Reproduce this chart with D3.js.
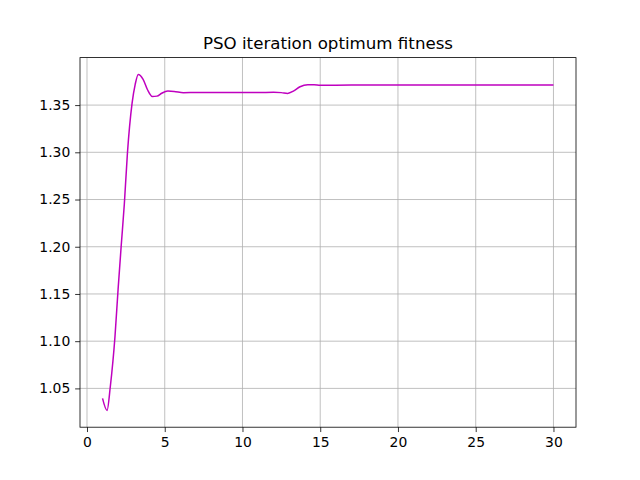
<!DOCTYPE html>
<html><head><meta charset="utf-8">
<script src="https://cdn.jsdelivr.net/npm/d3@7"></script>
<style>body{margin:0;background:#fff}</style>
</head><body>
<svg id="c" width="640" height="480"></svg>
<script>
const iterX = [1, 1.29, 1.5, 1.8, 2.0, 2.2, 2.4, 2.6, 2.9, 3.1, 3.3, 3.6, 3.9, 4.2, 4.5, 4.8, 5.2, 5.6, 6.2, 7, 8, 9, 10, 11, 12, 12.5, 12.9, 13.3, 13.7, 14.2, 14.6, 15, 16, 17, 18, 19, 20, 21, 22, 23, 24, 25, 26, 27, 28, 29, 30];
const fitness = [1.0394, 1.0267, 1.052, 1.105, 1.155, 1.201, 1.245, 1.299, 1.352, 1.372, 1.3825, 1.3776, 1.366, 1.3592, 1.3595, 1.3625, 1.3648, 1.3645, 1.3632, 1.3633, 1.3634, 1.3634, 1.3634, 1.3634, 1.3635, 1.3632, 1.3624, 1.3650, 1.3694, 1.3716, 1.3716, 1.3709, 1.3711, 1.3712, 1.3712, 1.3712, 1.3712, 1.3712, 1.3712, 1.3712, 1.3712, 1.3712, 1.3712, 1.3712, 1.3712, 1.3712, 1.3712];
const xTicks = [0, 5, 10, 15, 20, 25, 30];
const yTicks = [1.05, 1.10, 1.15, 1.20, 1.25, 1.30, 1.35];
const title = "PSO iteration optimum fitness";

const svg = d3.select("#c");
const L = 80, R = 576, T = 57.6, B = 427.2;
const xMin = d3.min(iterX), xMax = d3.max(iterX), xm = (xMax - xMin) * 0.05;
const yMin = d3.min(fitness), yMax = d3.max(fitness), ym = (yMax - yMin) * 0.05;
const x = d3.scaleLinear().domain([xMin - xm, xMax + xm]).range([L, R]);
const y = d3.scaleLinear().domain([yMin - ym, yMax + ym]).range([B, T]);
const font = "DejaVu Sans, sans-serif";

// grid
const g = svg.append("g");
g.selectAll(".gx").data(xTicks).enter().append("line")
  .attr("x1", d => x(d)).attr("x2", d => x(d)).attr("y1", T).attr("y2", B)
  .attr("stroke", "#b0b0b0").attr("stroke-width", 0.8);
g.selectAll(".gy").data(yTicks).enter().append("line")
  .attr("y1", d => y(d)).attr("y2", d => y(d)).attr("x1", L).attr("x2", R)
  .attr("stroke", "#b0b0b0").attr("stroke-width", 0.8);

// line
const line = d3.line().x((d, i) => x(iterX[i])).y(d => y(d)).curve(d3.curveMonotoneX);
svg.append("path").datum(fitness).attr("d", line)
  .attr("fill", "none").attr("stroke", "#bf00bf").attr("stroke-width", 1.5)
  .attr("stroke-linejoin", "round").attr("stroke-linecap", "butt");

// axes
const xAxis = d3.axisBottom(x).tickValues(xTicks).tickFormat(d3.format("d")).tickSize(4.86).tickPadding(4.86);
const yAxis = d3.axisLeft(y).tickValues(yTicks).tickFormat(d3.format(".2f")).tickSize(4.86).tickPadding(4.86);
const ax = svg.append("g").attr("transform", `translate(0,${B})`).call(xAxis);
const ay = svg.append("g").attr("transform", `translate(${L},0)`).call(yAxis);
[ax, ay].forEach(a => {
  a.select(".domain").remove();
  a.selectAll("line").attr("stroke", "#000").attr("stroke-width", 0.8);
  a.selectAll("text").attr("font-family", font).attr("font-size", "13.9px").attr("fill", "#000");
});

// frame
svg.append("rect").attr("x", L).attr("y", T).attr("width", R - L).attr("height", B - T)
  .attr("fill", "none").attr("stroke", "#000").attr("stroke-width", 0.8);

svg.append("text").attr("x", (L + R) / 2).attr("y", T - 8.3)
  .attr("text-anchor", "middle").attr("font-family", font).attr("font-size", "16.67px")
  .attr("fill", "#000").text(title);
</script>
</body></html>
